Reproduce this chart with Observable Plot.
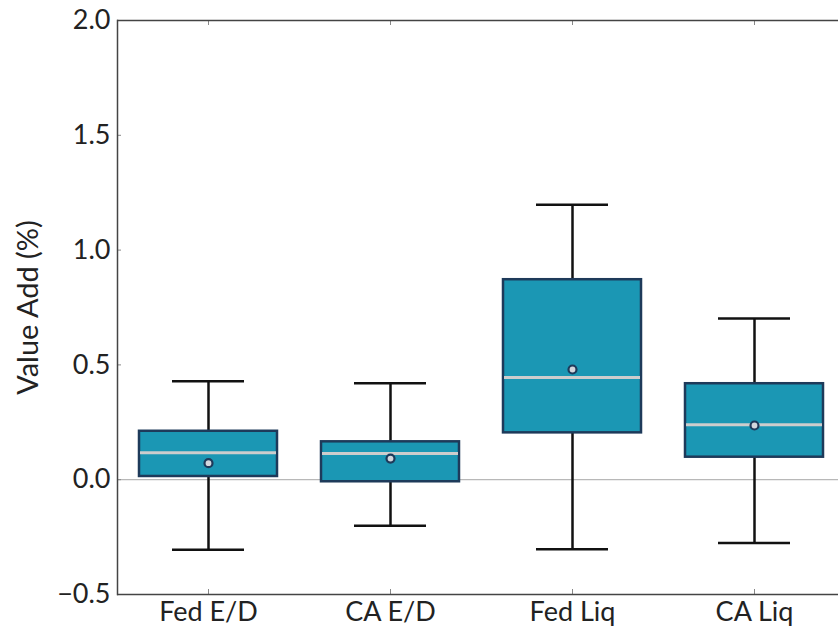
<!DOCTYPE html>
<html><head><meta charset="utf-8">
<script src="https://cdn.jsdelivr.net/npm/d3@7"></script>
<script src="https://cdn.jsdelivr.net/npm/@observablehq/plot@0.6"></script>
<style>
html,body{margin:0;padding:0;overflow:hidden;background:#fff}
</style></head><body><div id="chart"></div>
<script>
const categories = ["Fed E/D", "CA E/D", "Fed Liq", "CA Liq"];
const whiskerLow  = [-0.305, -0.201, -0.303, -0.276];
const q1          = [0.014, -0.009, 0.204, 0.098];
const median      = [0.117, 0.114, 0.445, 0.239];
const q3          = [0.211, 0.165, 0.871, 0.418];
const whiskerHigh = [0.429, 0.420, 1.197, 0.702];
const mean        = [0.072, 0.092, 0.480, 0.236];
const yTicks      = [-0.5, 0.0, 0.5, 1.0, 1.5, 2.0];
const yLabel      = "Value Add (%)";

const data = categories.map((c, i) => ({
  cat: c, lo: whiskerLow[i], q1: q1[i], med: median[i], q3: q3[i], hi: whiskerHigh[i], mean: mean[i]
}));

const boxFill = "#1b97b4", boxStroke = "#1e3a5a", whisker = "#111111";

const chart = Plot.plot({
  width: 838,
  height: 632,
  marginLeft: 117,
  marginRight: 0,
  marginTop: 20,
  marginBottom: 38,
  style: {fontFamily: "Lato, sans-serif", fontSize: "27px", color: "#222", background: "#fff"},
  x: {type: "band", domain: categories, padding: 0, range: [117, 845]},
  y: {domain: [-0.5, 2.0]},
  marks: [
    Plot.ruleY([0], {stroke: "#b8b8b8", strokeWidth: 1.2}),
    Plot.ruleX(data, {x: "cat", y1: "lo", y2: "q1", stroke: whisker, strokeWidth: 2.5}),
    Plot.ruleX(data, {x: "cat", y1: "q3", y2: "hi", stroke: whisker, strokeWidth: 2.5}),
    Plot.tickY(data, {x: "cat", y: "lo", stroke: whisker, strokeWidth: 2.5, inset: 55}),
    Plot.tickY(data, {x: "cat", y: "hi", stroke: whisker, strokeWidth: 2.5, inset: 55}),
    Plot.barY(data, {x: "cat", y1: "q1", y2: "q3", fill: boxFill, stroke: boxStroke, strokeWidth: 2.5, insetLeft: 22, insetRight: 22}),
    Plot.tickY(data, {x: "cat", y: "med", stroke: "#cdcdcd", strokeWidth: 3, inset: 23}),
    Plot.dot(data, {x: "cat", y: "mean", r: 4, fill: "#d3d6dc", stroke: boxStroke, strokeWidth: 2.2}),
    Plot.axisY({ticks: yTicks, tickFormat: d3.format(".1f"), tickSize: -4, tickPadding: 11, stroke: "#888",
      fontSize: 27, label: null}),
    Plot.axisY({ticks: [], label: yLabel, labelAnchor: "center", labelArrow: "none", labelOffset: 100,
      fontSize: 29, style: {letterSpacing: "0.6px"}}),
    Plot.axisX({anchor: "top", tickSize: -4, stroke: "#888", tickFormat: () => "", label: null}),
    Plot.axisX({anchor: "bottom", tickSize: -5, tickPadding: 12, stroke: "#888", fontSize: 27, label: null,
      style: {letterSpacing: "1.3px"}}),
    Plot.ruleY([-0.5, 2.0], {stroke: "#444", strokeWidth: 1.5}),
    Plot.frame({anchor: "left", stroke: "#444", strokeWidth: 1.5})
  ]
});
document.getElementById("chart").appendChild(chart);
</script></body></html>
